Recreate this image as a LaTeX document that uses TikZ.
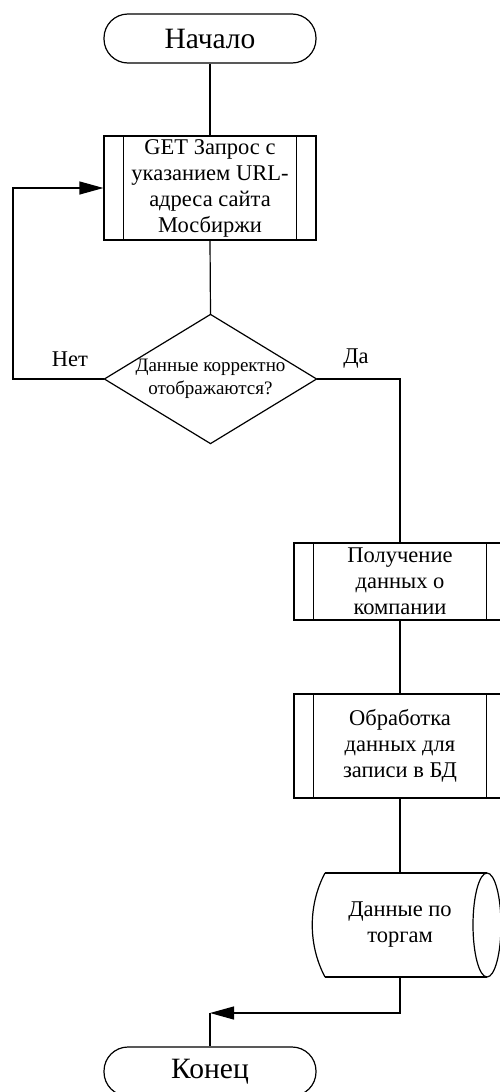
\documentclass[tikz,border=0pt]{standalone}
\usepackage{fontspec}
\setmainfont{Liberation Serif}
\usetikzlibrary{arrows.meta,calc}

\tikzset{
  every path/.style={line width=1.2pt},
  terminal/.style={draw, rounded corners=24pt, minimum width=212pt, minimum height=49pt,
    inner sep=0pt, font=\fontsize{29.5}{32}\selectfont},
  procbox/.style={draw, minimum width=212pt, inner sep=0pt, align=center,
    font=\fontsize{22.5}{26}\selectfont},
  decisionarea/.style={minimum width=211pt, minimum height=128pt, inner sep=0pt, align=center,
    font=\fontsize{19}{22.5}\selectfont},
  storearea/.style={minimum width=150pt, minimum height=104pt, inner sep=0pt, align=center,
    font=\fontsize{22.5}{26}\selectfont},
  branchlabel/.style={inner sep=0pt, font=\fontsize{22.5}{26}\selectfont},
  flowarrow/.style={-{Triangle[length=24pt,width=13pt]}},
}

% draws the two inner side bars of a predefined-process box
\newcommand{\sidebars}[1]{%
  \draw ([xshift=20pt]#1.north west) -- ([xshift=20pt]#1.south west);
  \draw ([xshift=-20pt]#1.north east) -- ([xshift=-20pt]#1.south east);
}

\begin{document}
\begin{tikzpicture}[x=1pt, y=-1pt]
  \useasboundingbox (0,0) rectangle (500,1092);

  % nodes
  \node[terminal] (start) at (210,38.5) {Начало};
  \node[procbox, minimum height=104pt] (req) at (210,188)
    {GET Запрос с\\указанием URL-\\адреса сайта\\Мосбиржи};
  \node[decisionarea] (check) at (210.5,379) {Данные корректно\\отображаются?};
  \draw (check.north) -- (check.east) -- (check.south) -- (check.west) -- cycle;
  \node[procbox, minimum height=77pt] (fetch) at (400,581.5)
    {Получение\\данных о\\компании};
  \node[procbox, minimum height=104pt] (prep) at (400,746)
    {Обработка\\данных для\\записи в БД};
  \node[storearea] (store) at (400,925) {Данные по\\торгам};
  \node[terminal] (finish) at (210,1071.5) {Конец};

  \sidebars{req}
  \sidebars{fetch}
  \sidebars{prep}

  % stored-data outline
  \begin{scope}[shift={(store.center)}]
    \draw (-75,-52) -- (87,-52);
    \draw (-75,52) -- (87,52);
    \draw (87,0) ellipse [x radius=14, y radius=52];
    \draw (-75,-52) .. controls (-92,-20) and (-92,20) .. (-75,52);
  \end{scope}

  % branch labels
  \node[branchlabel] (no) at (70,359) {Нет};
  \node[branchlabel] (yes) at (356,359) {Да};

  % connectors
  \coordinate (loop) at (13,379);
  \coordinate (merge) at (210,1013);
  \draw (start.south) -- (req.north);
  \draw (req.south) -- (check.north);
  \draw[flowarrow] (check.west) -- (loop) |- (req.west);
  \draw (check.east) -| (fetch.north);
  \draw (fetch.south) -- (prep.north);
  \draw (prep.south) -- (store.north);
  \draw[flowarrow] (store.south) |- (merge);
  \draw (merge) -- (finish.north);
\end{tikzpicture}
\end{document}
